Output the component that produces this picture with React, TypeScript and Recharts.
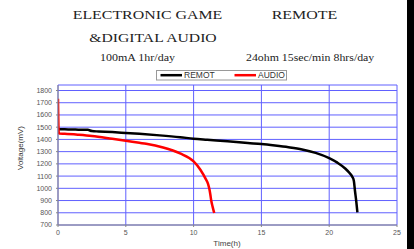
import React from 'react';
import { LineChart, Line, XAxis, YAxis, CartesianGrid, Legend } from 'recharts';

const REMOT_TIME = [0, 0.5, 1, 1.5, 2.2, 2.5, 3, 4, 5, 6, 7.5, 9, 10, 11, 12.5, 14, 15, 16, 17, 18, 19, 20, 20.6, 21.2, 21.5, 21.7, 21.82, 21.9, 22.0, 22.08];
const REMOT_VOLT = [1484, 1483, 1481, 1480, 1478, 1468, 1465, 1460, 1453, 1446, 1433, 1418, 1406, 1397, 1384, 1370, 1362, 1350, 1336, 1318, 1290, 1247, 1210, 1160, 1125, 1095, 1060, 980, 890, 803];

const AUDIO_TIME = [0, 0.05, 0.1, 0.5, 1.5, 2.5, 4, 5, 6, 6.5, 7.75, 9, 10, 10.5, 10.9, 11.07, 11.17, 11.24, 11.3, 11.4, 11.52];
const AUDIO_VOLT = [1732, 1460, 1448, 1446, 1438, 1428, 1405, 1389, 1372, 1364, 1334, 1285, 1220, 1152, 1075, 1035, 990, 945, 900, 850, 798];

const X_TICKS = [0, 5, 10, 15, 20, 25];
const Y_TICKS = [700, 800, 900, 1000, 1100, 1200, 1300, 1400, 1500, 1600, 1700, 1800];

const SERIES_NAMES = ['REMOT', 'AUDIO'];
const SERIES_COLORS = ['#000000', '#ff0000'];

const remotData = REMOT_TIME.map((t, i) => ({ t, v: REMOT_VOLT[i] }));
const audioData = AUDIO_TIME.map((t, i) => ({ t, v: AUDIO_VOLT[i] }));

const sans = '"Liberation Sans", Arial, sans-serif';
const serif = '"Liberation Serif", "Times New Roman", serif';

const renderLegend = (props: any) => {
  const payload = [...(props.payload || [])].sort(
    (a: any, b: any) => SERIES_NAMES.indexOf(a.value) - SERIES_NAMES.indexOf(b.value)
  );
  return (
    <svg width={132} height={11} style={{ display: 'block' }}>
      <rect x={0.5} y={0.5} width={130} height={9.5} fill="#fff" stroke="#999" strokeWidth={1} />
      {payload.map((p: any, i: number) => (
        <g key={i} transform={`translate(${4.5 + i * 74},0)`}>
          <line x1={0} y1={5.2} x2={21.5} y2={5.2} stroke={p.color} strokeWidth={2.5} />
          <text x={23.5} y={8.3} fontSize={8.5} fontFamily={sans} fill="#333">{p.value}</text>
        </g>
      ))}
    </svg>
  );
};

export default function App() {
  return (
    <div style={{ position: 'absolute', left: 0, top: 0, width: 414, height: 249, background: '#fff' }}>
      <LineChart width={414} height={249} margin={{ top: 85, right: 17, bottom: 0, left: 0 }}>
        <CartesianGrid xAxisId="b" yAxisId="l" stroke="#6060ff" strokeWidth={1} />
        <XAxis xAxisId="b" type="number" dataKey="t" domain={[0, 25]} ticks={X_TICKS} interval={0} height={24}
          tickSize={2} tickMargin={3} tick={{ fontSize: 7, fill: '#555', fontFamily: sans }}
          axisLine={{ stroke: '#888' }} tickLine={{ stroke: '#888' }} allowDataOverflow />
        <XAxis xAxisId="top" orientation="top" type="number" dataKey="t" domain={[0, 25]} height={0}
          tick={false} tickLine={false} axisLine={{ stroke: '#888' }} />
        <YAxis yAxisId="l" type="number" domain={[700, 1845]} ticks={Y_TICKS} interval={0} width={58}
          tickSize={2} tickMargin={4} tick={{ fontSize: 7, fill: '#555', fontFamily: sans }}
          axisLine={{ stroke: '#888' }} tickLine={{ stroke: '#888' }} allowDataOverflow />
        <YAxis yAxisId="r" orientation="right" type="number" domain={[700, 1845]} width={0}
          tick={false} tickLine={false} axisLine={{ stroke: '#888' }} />
        <Legend layout="horizontal" verticalAlign="middle" align="center" content={renderLegend}
          wrapperStyle={{ position: 'absolute', left: 156, top: 70, width: 132, height: 11 }} />
        <Line xAxisId="b" yAxisId="l" data={remotData} dataKey="v" name={SERIES_NAMES[0]} stroke={SERIES_COLORS[0]}
          strokeWidth={2.5} dot={false} isAnimationActive={false} type="monotone" />
        <Line xAxisId="b" yAxisId="l" data={audioData} dataKey="v" name={SERIES_NAMES[1]} stroke={SERIES_COLORS[1]}
          strokeWidth={2.5} dot={false} isAnimationActive={false} type="monotone" />
      </LineChart>
      <svg width={414} height={249} style={{ position: 'absolute', left: 0, top: 0, pointerEvents: 'none' }}>
        <text x={72.7} y={19.3} fontSize={13.5} fontFamily={serif} fill="#222" textLength={149.6} lengthAdjust="spacingAndGlyphs">ELECTRONIC GAME</text>
        <text x={271.7} y={19.3} fontSize={13.5} fontFamily={serif} fill="#222" textLength={65.6} lengthAdjust="spacingAndGlyphs">REMOTE</text>
        <text x={89.3} y={41.6} fontSize={13.5} fontFamily={serif} fill="#222" textLength={127.4} lengthAdjust="spacingAndGlyphs">&amp;DIGITAL AUDIO</text>
        <text x={100} y={61.2} fontSize={10.5} fontFamily={serif} fill="#222" textLength={75} lengthAdjust="spacingAndGlyphs">100mA 1hr/day</text>
        <text x={246} y={61.2} fontSize={10.5} fontFamily={serif} fill="#222" textLength={128.3} lengthAdjust="spacingAndGlyphs">24ohm 15sec/min 8hrs/day</text>
        <text x={227} y={246} fontSize={8} fontFamily={sans} fill="#444" textAnchor="middle">Time(h)</text>
        <text x={0} y={0} fontSize={8} fontFamily={sans} fill="#333" textAnchor="middle"
          transform="translate(23,148) rotate(-90)">Voltage(mV)</text>
      </svg>
      <div style={{ position: 'absolute', left: 407, top: 0, width: 7, height: 249, background: '#000' }} />
    </div>
  );
}
